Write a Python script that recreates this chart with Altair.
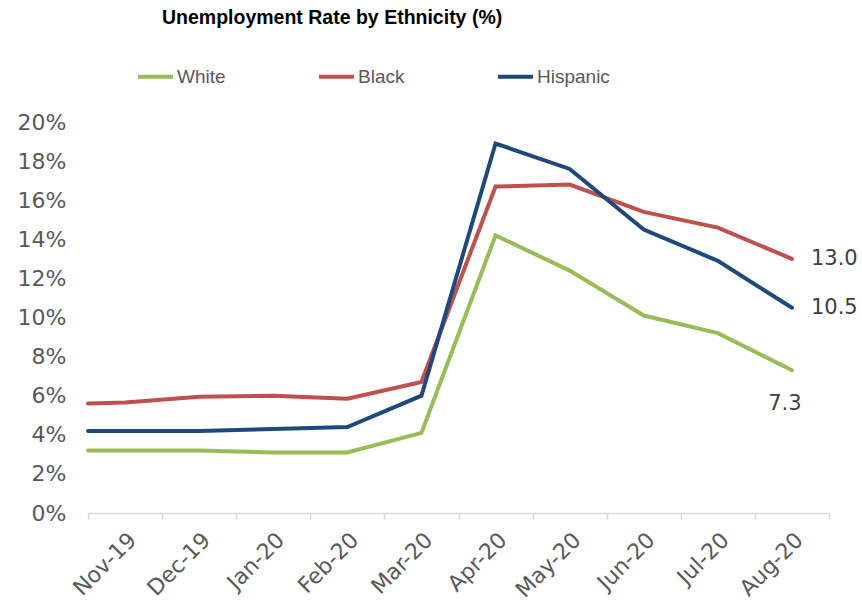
import altair as alt
import pandas as pd

months = ["Nov-19", "Dec-19", "Jan-20", "Feb-20", "Mar-20",
          "Apr-20", "May-20", "Jun-20", "Jul-20", "Aug-20"]
# first value = line start at the left edge of the axis
white = [3.2, 3.2, 3.2, 3.1, 3.1, 4.1, 14.2, 12.4, 10.1, 9.2, 7.3]
black = [5.6, 5.65, 5.95, 6.0, 5.85, 6.7, 16.7, 16.8, 15.4, 14.6, 13.0]
hispanic = [4.2, 4.2, 4.2, 4.3, 4.4, 6.0, 18.9, 17.6, 14.5, 12.9, 10.5]
series = ["White", "Black", "Hispanic"]
colors = ["#9BBB59", "#C0504D", "#1F497D"]

xpos = [0.0] + [i + 0.5 for i in range(len(months))]
rows = []
for name, vals in zip(series, [white, black, hispanic]):
    for k, (xp, v) in enumerate(zip(xpos, vals)):
        rows.append({"series": name, "x": xp, "v": v, "last": k == len(vals) - 1,
                     "lbl": f"{v:.1f}"})
df = pd.DataFrame(rows)

label_expr = "''"
for i in reversed(range(len(months))):
    label_expr = f"datum.value == {i + 0.5} ? '{months[i]}' : ({label_expr})"
tick_vals = [i * 0.5 for i in range(0, 2 * len(months) + 1)]

x = alt.X("x:Q", scale=alt.Scale(domain=[0, len(months)], nice=False, zero=False),
          axis=alt.Axis(values=tick_vals, title=None,
                        labelExpr=label_expr, labelOverlap=False, labelBound=False,
                        labelFlush=False,
                        labelAngle=-45, labelFontSize=22, labelFont="DejaVu Sans",
                        labelColor="#595959", labelPadding=10,
                        tickSize=6, tickWidth=1.5,
                        tickColor={"condition": {"test": "datum.value % 1 != 0", "value": "transparent"},
                                   "value": "#D9D9D9"},
                        domainColor="#D9D9D9", domainWidth=1.5, grid=False))
y = alt.Y("v:Q", scale=alt.Scale(domain=[0, 20], nice=False),
          axis=alt.Axis(values=list(range(0, 21, 2)), title=None, labelExpr="datum.value + '%'",
                        labelOverlap=False, labelFontSize=22, labelFont="DejaVu Sans",
                        labelColor="#595959", labelPadding=22, ticks=False, domain=False,
                        grid=False))
color = alt.Color("series:N", scale=alt.Scale(domain=series, range=colors),
                  legend=alt.Legend(title=None, orient="none", direction="horizontal",
                                    legendX=48, legendY=-65, symbolType="stroke",
                                    symbolSize=1225, symbolStrokeWidth=4,
                                    labelFont="Liberation Sans", labelFontSize=19,
                                    labelColor="#595959", labelOffset=2, columnPadding=85))

lines = alt.Chart(df).mark_line(strokeWidth=4, strokeCap="round", strokeJoin="miter").encode(
    x=x, y=y, color=color, order="x:Q")

base_txt = alt.Chart(df).transform_filter("datum.last")
txt_right = base_txt.transform_filter("datum.series != 'White'").mark_text(
    align="left", baseline="middle", dx=19, fontSize=21, font="DejaVu Sans", color="#404040"
).encode(x=x, y=y, text="lbl:N")
txt_below = base_txt.transform_filter("datum.series == 'White'").mark_text(
    align="center", baseline="middle", dx=-7, dy=34, fontSize=21, font="DejaVu Sans", color="#404040"
).encode(x=x, y=y, text="lbl:N")

chart = alt.layer(lines, txt_right, txt_below).properties(
    width=741, height=391,
    autosize=alt.AutoSizeParams(type="none"),
    padding={"left": 88, "top": 122, "right": 33, "bottom": 94},
    title=alt.TitleParams("Unemployment Rate by Ethnicity (%)", anchor="start", frame="group",
                          dx=74, offset=29, fontSize=19.5, font="Liberation Sans",
                          fontWeight="bold", color="#000000"),
).configure_view(stroke=None)

chart.save("out.html", embed_options={"renderer": "svg", "actions": False})
